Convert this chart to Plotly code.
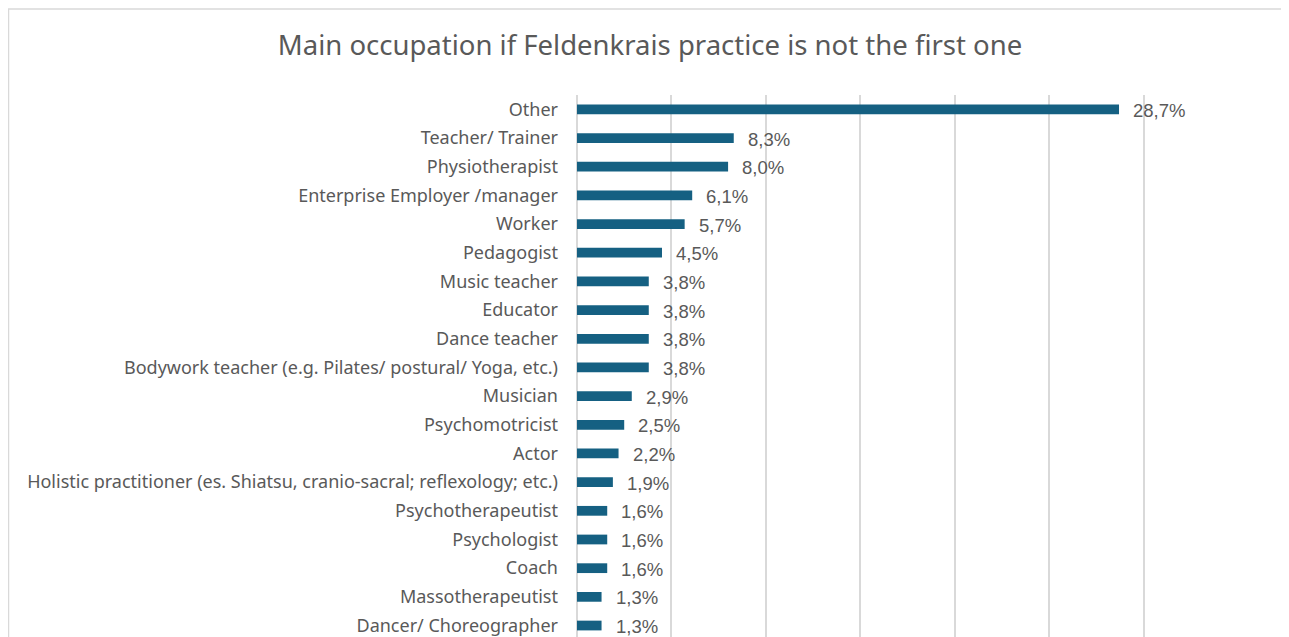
import plotly.graph_objects as go

# occupation categories, top to bottom as shown
occupations = [
    "Other",
    "Teacher/ Trainer",
    "Physiotherapist",
    "Enterprise Employer /manager",
    "Worker",
    "Pedagogist",
    "Music teacher",
    "Educator",
    "Dance teacher",
    "Bodywork teacher (e.g. Pilates/ postural/ Yoga, etc.)",
    "Musician",
    "Psychomotricist",
    "Actor",
    "Holistic practitioner (es. Shiatsu, cranio-sacral; reflexology; etc.)",
    "Psychotherapeutist",
    "Psychologist",
    "Coach",
    "Massotherapeutist",
    "Dancer/ Choreographer",
]
shares = [28.7, 8.3, 8.0, 6.1, 5.7, 4.5, 3.8, 3.8, 3.8, 3.8,
          2.9, 2.5, 2.2, 1.9, 1.6, 1.6, 1.6, 1.3, 1.3]

# page body has an 8px margin, so the figure is drawn 8px smaller
W, H = 1281, 629
ML, MR, MT, MB = 569, 51, 87, 0
GREY = "#595959"

labels = [f"{v:.1f}".replace(".", ",") + "%" for v in shares]

fig = go.Figure(go.Bar(
    y=occupations, x=shares, orientation="h",
    marker=dict(color="#156082", line=dict(width=0)),
    width=0.34,
    hoverinfo="x+y",
))

for occ, v, lab in zip(occupations, shares, labels):
    fig.add_annotation(x=v, y=occ, text=lab, showarrow=False,
                       xanchor="left", yanchor="middle", xshift=12, yshift=-1,
                       font=dict(family="Liberation Sans, Arial", size=18.5, color=GREY))

# chart-area border (cropped at right/bottom like the source)
pw = W - ML - MR
ph = H - MT - MB
fig.add_shape(type="rect", xref="paper", yref="paper",
              x0=(0.5 - ML) / pw, x1=(W + 5 - ML) / pw,
              y0=-5 / ph, y1=(H - MB - 1) / ph,
              line=dict(color="#d9d9d9", width=1.5), layer="below")

fig.update_layout(
    width=W, height=H,
    margin=dict(l=ML, r=MR, t=MT, b=MB),
    paper_bgcolor="white", plot_bgcolor="white",
    showlegend=False,
    title=dict(text="Main occupation if Feldenkrais practice is not the first one",
               x=642 / W, xanchor="center", y=1 - 37 / H, yanchor="middle",
               font=dict(family="Noto Sans, Open Sans", size=27.5, color=GREY)),
    font=dict(family="Noto Sans, Open Sans", size=18, color=GREY),
    xaxis=dict(range=[0, 35], dtick=5, showticklabels=False,
               showgrid=True, gridcolor="#d9d9d9", gridwidth=1.5,
               zeroline=True, zerolinecolor="#d9d9d9", zerolinewidth=1.5,
               showline=False, fixedrange=True),
    yaxis=dict(categoryorder="array", categoryarray=occupations,
               range=[18.4, -0.5], showgrid=False, ticks="",
               ticklabelstandoff=18,
               tickfont=dict(family="Noto Sans, Open Sans", size=18, color=GREY)),
)

fig.write_html("out.html")
